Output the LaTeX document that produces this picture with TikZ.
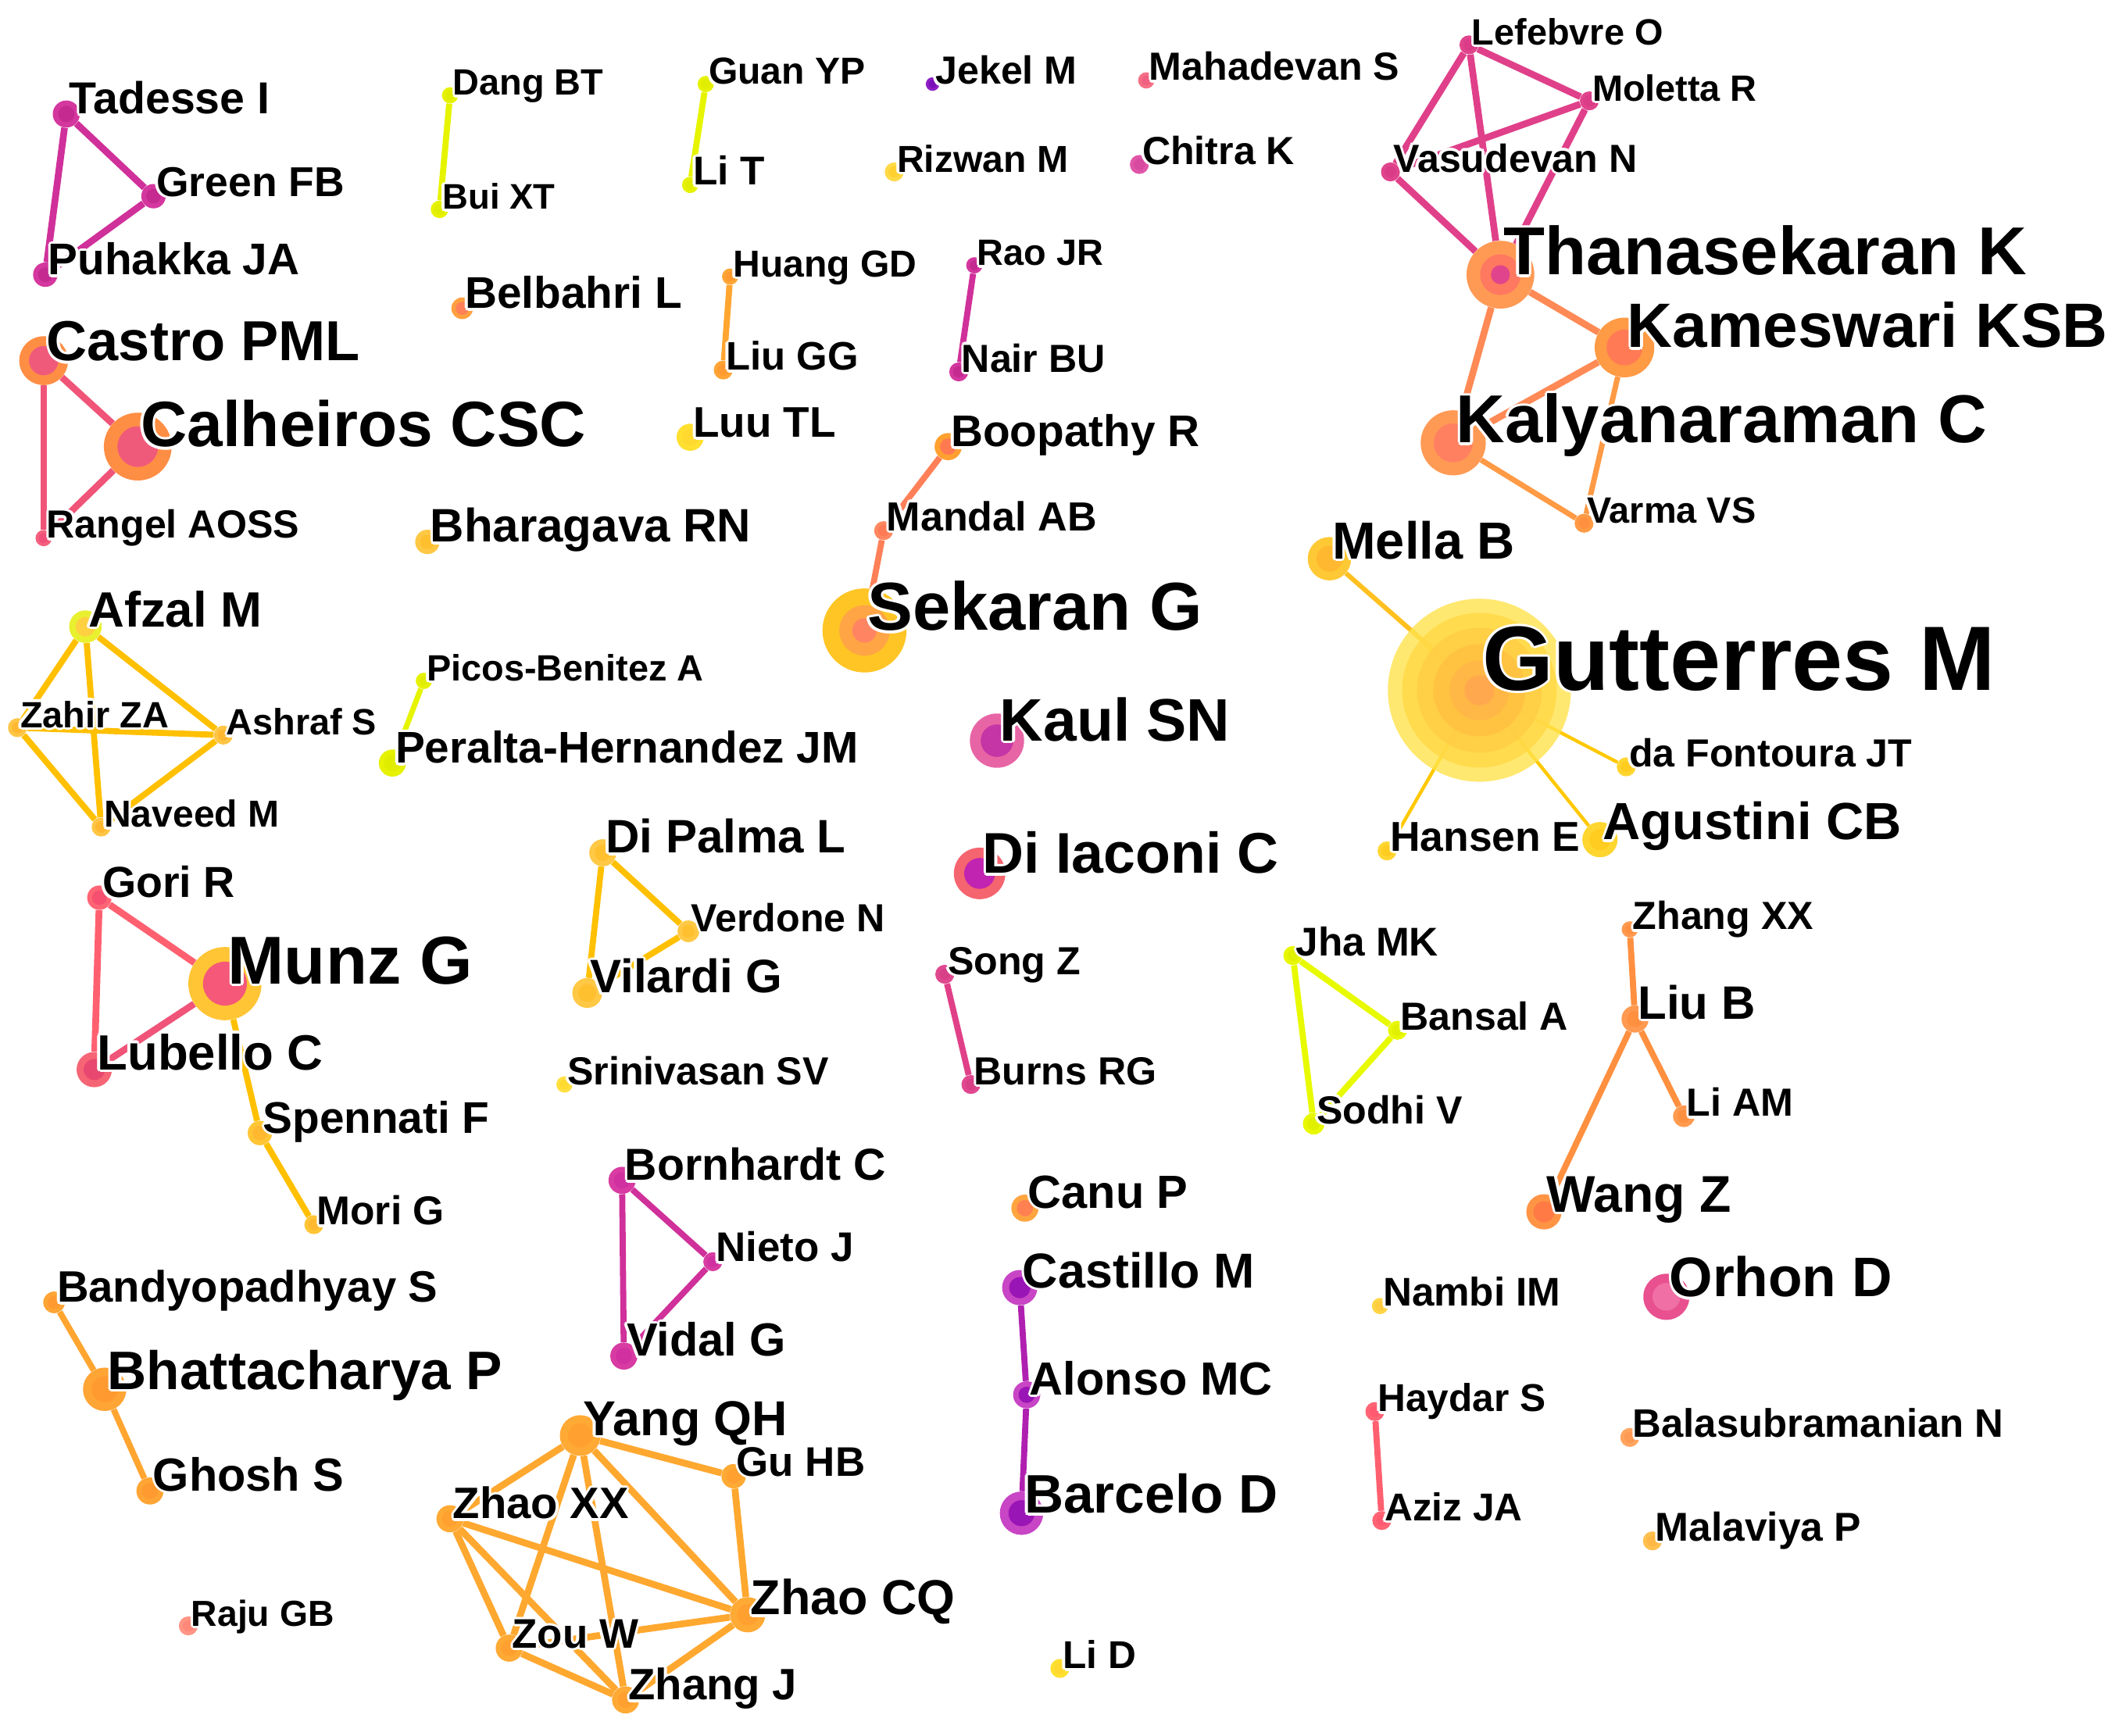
\documentclass[tikz,border=0pt]{standalone}
\usepackage{fontspec}
\setmainfont{Liberation Sans}
\pgfdeclarelayer{bg}
\pgfdeclarelayer{fg}
\pgfsetlayers{bg,main,fg}
\newcommand\fsz[1]{\fontsize{#1pt}{#1pt}\selectfont\bfseries}
\tikzset{
  audot/.style={circle, inner sep=0pt, draw=none},
  lbl/.style={anchor=base west, inner sep=0pt, xshift=2pt, text=black},
  lblh/.style={lbl, text=white},
}
% halo label
\newcommand\lab[3]{%
  \foreach \ang in {0,45,...,315}{\node[lblh,font=\fsz{#2}] at ([shift={(\ang:2pt)}]#1.center) {#3};}
  \node[lbl,font=\fsz{#2}] (#1l) at (#1.center) {#3};}
% author node: name, x, y, r, outer, inner, font size, text
\newcommand\au[8]{%
  \definecolor{o#1}{HTML}{#5}\definecolor{i#1}{HTML}{#6}%
  \node[audot, fill=o#1, minimum size={2*#4*1pt}] (#1) at (#2,#3) {};
  \fill[i#1] (#1.center) circle[radius={0.6*#4*1pt}];
  \begin{pgfonlayer}{fg}\lab{#1}{#7}{#8}\end{pgfonlayer}}
\newcommand\edg[4]{\draw[draw=#1, line width=#2pt] (#3) -- (#4);}
\definecolor{eMag}{HTML}{D0309A}
\definecolor{eLime}{HTML}{E6F400}
\definecolor{ePink}{HTML}{F05478}
\definecolor{eOrg}{HTML}{FFA530}
\definecolor{eSal}{HTML}{FF8058}
\definecolor{eRose}{HTML}{E0408A}
\definecolor{eTha}{HTML}{FF8A55}
\definecolor{eVar}{HTML}{FF9A45}
\definecolor{eGold}{HTML}{FFC020}
\definecolor{eGut}{HTML}{FFC800}
\definecolor{eAmb}{HTML}{FFC000}
\definecolor{eRed}{HTML}{FF6070}
\definecolor{eSong}{HTML}{E04088}
\definecolor{eJha}{HTML}{E8FA00}
\definecolor{eLiu}{HTML}{FF9040}
\definecolor{ePur}{HTML}{B020B0}
\definecolor{eYang}{HTML}{FFA830}
\definecolor{gA}{HTML}{FFE34D}
\definecolor{gB}{HTML}{FFD845}
\definecolor{gC}{HTML}{FFCC45}
\definecolor{gD}{HTML}{FFC040}
\definecolor{gE}{HTML}{FFB448}
\definecolor{gF}{HTML}{FFA550}
\definecolor{sekC}{HTML}{FF8562}
\definecolor{thaC}{HTML}{E0448C}
\begin{document}
\begin{tikzpicture}[x=1pt,y=-1pt]
\useasboundingbox (0,0) rectangle (1568,1280);
\begin{pgfonlayer}{bg}
\fill[white] (0,0) rectangle (1568,1280);
\end{pgfonlayer}
% ---------- nodes row 1
\au{tad}{48.9}{84.1}{10}{D4379E}{C42A90}{33}{Tadesse I}
\au{grn}{113.2}{144.7}{9}{D4379E}{C42A90}{30.8}{Green FB}
\au{puh}{33.4}{202.6}{9}{D4379E}{C42A90}{32.7}{Puhakka JA}
\au{cas}{32.2}{266}{18}{FF8E45}{F05A7A}{41.6}{Castro PML}
\au{cal}{101.6}{329.4}{25}{FF8E45}{F05A7A}{47.3}{Calheiros CSC}
\au{ran}{32.2}{396.9}{6}{F4607E}{F0507A}{28.9}{Rangel AOSS}
\au{dan}{331.9}{70.3}{6}{E6F200}{E0EC00}{27}{Dang BT}
\au{bui}{324.2}{154.4}{6.5}{E6F200}{E0EC00}{26.2}{Bui XT}
\au{bel}{340.9}{227.4}{8}{FFA040}{FF8058}{32.7}{Belbahri L}
\au{bha}{315.2}{399.7}{9}{FFC844}{FFC030}{34.6}{Bharagava RN}
\au{gua}{520.5}{62}{6}{E6F200}{E0EC00}{27.7}{Guan YP}
\au{lit}{509}{136.4}{6}{E6F200}{E0EC00}{29.6}{Li T}
\au{jek}{687.8}{62}{5}{8E1EC4}{7A10B8}{28.9}{Jekel M}
\au{riz}{659.5}{126.8}{7}{FFDA48}{FFD030}{27.7}{Rizwan M}
\au{hua}{538.5}{204}{6}{FFA535}{FF9A30}{27.7}{Huang GD}
\au{lgg}{533.4}{272.9}{7}{FFA535}{FF9A30}{29.3}{Liu GG}
\au{rao}{718.6}{195.7}{6}{D4379E}{C42A90}{27}{Rao JR}
\au{nai}{707.1}{274.3}{7}{D4379E}{C42A90}{28.9}{Nair BU}
\au{luu}{509}{322.5}{10}{FFE030}{FFD830}{31.6}{Luu TL}
\au{boo}{699.3}{329.4}{10}{FFA030}{FF7A50}{32.7}{Boopathy R}
\au{man}{651.7}{391.4}{7}{FF8860}{FF7A55}{30}{Mandal AB}
\au{mah}{845.4}{59.3}{6}{F56F85}{F06080}{28.9}{Mahadevan S}
\au{chi}{840.3}{121.3}{7}{E055A8}{D84AA0}{28.9}{Chitra K}
\au{lef}{1083.4}{33.1}{7}{E0448C}{DA3C88}{27}{Lefebvre O}
\au{vas}{1025.5}{126.8}{7}{E0448C}{DA3C88}{28.9}{Vasudevan N}
\au{mol}{1172.2}{74.4}{7}{E0448C}{DA3C88}{27}{Moletta R}
\au{tha}{1106.6}{202.6}{25}{FF9A55}{FF7860}{50}{Thanasekaran K}
\fill[thaC] (tha.center) circle[radius=7pt];
\au{kal}{1071.8}{326.6}{24}{FF9A55}{FF8060}{50}{Kalyanaraman C}
\au{kam}{1198.1}{256.3}{22}{FF9A45}{FF7A55}{46.2}{Kameswari KSB}
\au{var}{1168.3}{385.9}{7}{FF9A45}{FF9040}{27}{Varma VS}
\au{mel}{980.5}{412.1}{16}{FFC835}{FFB830}{38.5}{Mella B}
% ---------- row 2
\au{afz}{63}{462.2}{12}{E8F030}{FFD040}{36.6}{Afzal M}
\au{zah}{12.9}{536.7}{7}{FFC545}{FFB830}{27}{Zahir ZA}
\au{ash}{164.7}{542.2}{7}{FFC545}{FFB830}{27}{Ashraf S}
\au{nav}{74.6}{610}{7}{FFC545}{FFB830}{27.7}{Naveed M}
\au{pic}{312.6}{502.2}{6}{E6F200}{E0EC00}{27}{Picos-Benitez A}
\au{per}{289.4}{562.8}{10}{E6F200}{E0EC00}{32.7}{Peralta-Hernandez JM}
\au{gor}{73.3}{662.1}{9}{FF6575}{F65070}{32}{Gori R}
\au{mun}{165.9}{725.5}{27}{FFC535}{F55878}{50}{Munz G}
\au{lub}{69.5}{788.9}{13}{F56575}{E8476F}{36.6}{Lubello C}
\au{spe}{191.7}{835.7}{9}{FFC535}{FFB830}{32.7}{Spennati F}
\au{sek}{637.6}{465}{31}{FFC525}{FFA545}{50}{Sekaran G}
\fill[sekC] (sek.center) circle[radius=9pt];
\au{kau}{735.3}{546.3}{20}{E865A5}{C535A5}{44.3}{Kaul SN}
\au{dpa}{444.6}{629}{10}{FFC845}{FFC030}{34.6}{Di Palma L}
\au{ver}{507.7}{686.9}{8}{FFC845}{FFC030}{28.9}{Verdone N}
\au{vil}{433.1}{732.4}{11}{FFC845}{FFC030}{34.6}{Vilardi G}
\au{dia}{722.5}{644.2}{19}{F56570}{C024B0}{42.3}{Di Iaconi C}
\au{son}{696.8}{718.6}{7}{E0488F}{D84088}{28.9}{Song Z}
\au{sri}{416.3}{799.9}{6}{FFE040}{FFDA30}{28.9}{Srinivasan SV}
\au{bur}{716.1}{799.9}{7}{E0488F}{D84088}{28.9}{Burns RG}
% Gutterres
\node[audot, fill=gA, fill opacity=0.8, minimum size=135pt] (gut) at (1091.1,509.1) {};
\fill[gB, fill opacity=0.8] (gut.center) circle[radius=57pt];
\fill[gC, fill opacity=0.8] (gut.center) circle[radius=46pt];
\fill[gD, fill opacity=0.8] (gut.center) circle[radius=34pt];
\fill[gE, fill opacity=0.8] (gut.center) circle[radius=22pt];
\fill[gF, fill opacity=0.8] (gut.center) circle[radius=11pt];
\begin{pgfonlayer}{fg}\lab{gut}{67.4}{Gutterres M}\end{pgfonlayer}
\au{han}{1023}{627.6}{7}{FFD630}{FFCC20}{30.8}{Hansen E}
\au{agu}{1180}{619.3}{13}{FFD630}{FFCC20}{38.5}{Agustini CB}
\au{daf}{1199.4}{565.6}{7}{FFD630}{FFCC20}{28.9}{da Fontoura JT}
\au{jha}{953.5}{704.8}{7}{E8F800}{E0F000}{29.6}{Jha MK}
\au{ban}{1030.7}{759.9}{7}{E8F800}{E0F000}{28.9}{Bansal A}
\au{sod}{968.9}{828.8}{8}{E8F800}{E0F000}{28.9}{Sodhi V}
\au{zxx}{1202}{685.5}{6}{FF9A50}{FF9040}{28.9}{Zhang XX}
\au{lib}{1205.9}{751.6}{10}{FF9A50}{FF9040}{34.6}{Liu B}
\au{lam}{1241.9}{823.3}{8}{FF9A50}{FF9040}{28.9}{Li AM}
% ---------- row 3
\au{mor}{231.5}{903.3}{7}{FFC535}{FFB830}{29.7}{Mori G}
\au{bnd}{39.9}{960.6}{8}{FFA535}{FF9A30}{32.4}{Bandyopadhyay S}
\au{bht}{77.2}{1024.7}{16}{FFA535}{FF9A30}{40}{Bhattacharya P}
\au{gho}{110.6}{1099.7}{10}{FFA535}{FF9A30}{34.3}{Ghosh S}
\au{raj}{138.9}{1199.2}{7}{FF9585}{FF8878}{26.7}{Raju GB}
\au{zhx}{331.9}{1120.2}{10}{FFAA35}{FFA030}{32.4}{Zhao XX}
\au{zou}{375.6}{1215.6}{10}{FFAA35}{FFA030}{30.5}{Zou W}
\au{bor}{458.8}{870.6}{10}{D83CA2}{D030A0}{33}{Bornhardt C}
\au{nie}{525.7}{930.6}{7}{D83CA2}{D030A0}{30.5}{Nieto J}
\au{vid}{460.1}{1000.2}{10}{D83CA2}{D030A0}{34.3}{Vidal G}
\au{yan}{427.9}{1058.8}{15}{FFAA35}{FFA030}{36.2}{Yang QH}
\au{guh}{541.1}{1088.8}{9}{FFAA35}{FFA030}{30.5}{Gu HB}
\au{zcq}{551.4}{1191}{13}{FFAA35}{FFA030}{36.2}{Zhao CQ}
\au{zhj}{461.4}{1253.8}{10}{FFAA35}{FFA030}{32.4}{Zhang J}
\au{can}{755.9}{891.1}{10}{FFA540}{FF8050}{34.3}{Canu P}
\au{cst}{752.1}{949.7}{13}{C845C5}{9A15B5}{36.2}{Castillo M}
\au{alo}{757.2}{1028.8}{10}{C845C5}{9A15B5}{34.3}{Alonso MC}
\au{bar}{753.4}{1116.1}{16}{C845C5}{9A15B5}{40}{Barcelo D}
\au{lid}{781.7}{1230.6}{7}{FFE030}{FFD830}{28.6}{Li D}
\au{wan}{1138.7}{893.8}{13}{FF9445}{FF7A45}{38.1}{Wang Z}
\au{nam}{1017.8}{963.3}{6}{FFD545}{FFCC40}{29.5}{Nambi IM}
\au{hay}{1014}{1041.1}{7}{FF6575}{FF5A70}{28.6}{Haydar S}
\au{azi}{1019.1}{1121.5}{7}{FF6575}{FF5A70}{28.6}{Aziz JA}
\au{orh}{1229}{956.5}{17}{E8508F}{F070A5}{41.1}{Orhon D}
\au{bal}{1202}{1060.2}{7}{FFA560}{FF9A55}{29.3}{Balasubramanian N}
\au{mal}{1218.7}{1136.5}{7}{FFC050}{FFB845}{29.7}{Malaviya P}
% ---------- edges
\begin{pgfonlayer}{bg}
\edg{eMag}{5}{tad}{grn}
\edg{eMag}{5}{tad}{puh}
\edg{eMag}{5}{grn}{puh}
\edg{eLime}{4.5}{dan}{bui}
\edg{eLime}{4.5}{gua}{lit}
\edg{ePink}{5}{cas}{cal}
\edg{ePink}{5}{cas}{ran}
\edg{ePink}{5}{cal}{ran}
\edg{eOrg}{4.5}{hua}{lgg}
\edg{eMag}{4.5}{rao}{nai}
\edg{eSal}{4.5}{boo}{man}
\edg{eSal}{4.5}{man}{sek}
\edg{eRose}{5}{lef}{mol}
\edg{eRose}{5}{lef}{vas}
\edg{eRose}{5}{lef}{tha}
\edg{eRose}{5}{mol}{vas}
\edg{eRose}{5}{mol}{tha}
\edg{eRose}{5}{vas}{tha}
\edg{eTha}{5}{tha}{kam}
\edg{eTha}{5}{tha}{kal}
\edg{eTha}{5}{kam}{kal}
\edg{eVar}{4}{kam}{var}
\edg{eVar}{4}{kal}{var}
\edg{eGold}{3.5}{mel}{gut.center}
\edg{eGut}{2.5}{gut.center}{han}
\edg{eGut}{2.5}{gut.center}{agu}
\edg{eGut}{2.5}{gut.center}{daf}
\edg{eAmb}{4.5}{afz}{zah}
\edg{eAmb}{4.5}{afz}{nav}
\edg{eAmb}{4.5}{afz}{ash}
\edg{eAmb}{4.5}{zah}{ash}
\edg{eAmb}{4.5}{zah}{nav}
\edg{eAmb}{4.5}{ash}{nav}
\edg{eLime}{4}{pic}{per}
\edg{eRed}{5}{gor}{mun}
\edg{eRed}{5}{gor}{lub}
\edg{ePink}{5}{mun}{lub}
\edg{eAmb}{4.5}{mun}{spe}
\edg{eAmb}{4.5}{spe}{mor}
\edg{eAmb}{4.5}{dpa}{ver}
\edg{eAmb}{4.5}{dpa}{vil}
\edg{eAmb}{4.5}{ver}{vil}
\edg{eSong}{4.5}{son}{bur}
\edg{eJha}{4.5}{jha}{ban}
\edg{eJha}{4.5}{jha}{sod}
\edg{eJha}{4.5}{ban}{sod}
\edg{eLiu}{4.5}{zxx}{lib}
\edg{eLiu}{4.5}{lib}{lam}
\edg{eLiu}{4.5}{lib}{wan}
\edg{eMag}{4.5}{bor}{nie}
\edg{eMag}{4.5}{bor}{vid}
\edg{eMag}{4.5}{nie}{vid}
\edg{ePur}{4.5}{cst}{alo}
\edg{ePur}{4.5}{alo}{bar}
\edg{eOrg}{4.5}{bnd}{bht}
\edg{eOrg}{4.5}{bht}{gho}
\edg{eRed}{4.5}{hay}{azi}
\edg{eYang}{5}{yan}{guh}
\edg{eYang}{5}{yan}{zhx}
\edg{eYang}{5}{yan}{zcq}
\edg{eYang}{5}{yan}{zou}
\edg{eYang}{5}{yan}{zhj}
\edg{eYang}{5}{guh}{zcq}
\edg{eYang}{5}{zhx}{zcq}
\edg{eYang}{5}{zhx}{zou}
\edg{eYang}{5}{zhx}{zhj}
\edg{eYang}{5}{zou}{zcq}
\edg{eYang}{5}{zou}{zhj}
\edg{eYang}{5}{zhj}{zcq}
\end{pgfonlayer}
\end{tikzpicture}
\end{document}
